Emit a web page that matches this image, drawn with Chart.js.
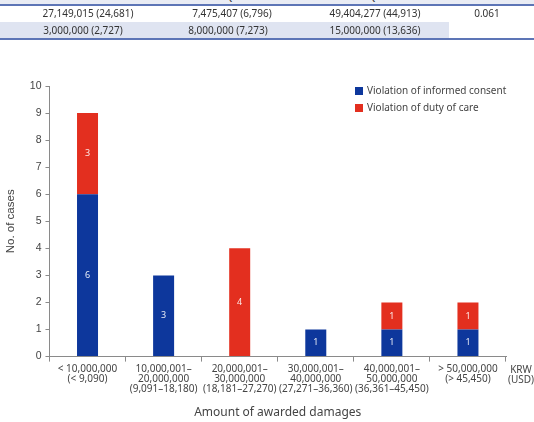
<!DOCTYPE html>
<html><head><meta charset="utf-8">
<script src="https://cdn.jsdelivr.net/npm/chart.js@4/dist/chart.umd.min.js"></script>
<style>
html,body{margin:0;padding:0;background:#fff;width:534px;height:422px;overflow:hidden;}
#wrap{position:relative;width:534px;height:422px;}
#c{position:absolute;left:0;top:0;}
.t{position:absolute;font-family:'Noto Sans',sans-serif;font-size:10px;color:#333;white-space:nowrap;transform:translate(-50%,-50%);}
.bar{position:absolute;left:0;width:534px;}
</style></head>
<body>
<div id="wrap">
<canvas id="c" width="534" height="422"></canvas>
<div id="tbl"></div>
</div>
<script>
// ----- table data (top, cropped) -----
const tableHeader = ["Median", "Q1", "Q3", "P value"];
const tableRow1 = ["27,149,015 (24,681)", "7,475,407 (6,796)", "49,404,277 (44,913)", "0.061"];
const tableRow2 = ["3,000,000 (2,727)", "8,000,000 (7,273)", "15,000,000 (13,636)"];

// ----- chart data -----
const categories = [
  ["< 10,000,000", "(< 9,090)"],
  ["10,000,001–", "20,000,000", "(9,091–18,180)"],
  ["20,000,001–", "30,000,000", "(18,181–27,270)"],
  ["30,000,001–", "40,000,000", "(27,271–36,360)"],
  ["40,000,001–", "50,000,000", "(36,361–45,450)"],
  ["> 50,000,000", "(> 45,450)"]
];
const informedConsent = [6, 3, 0, 1, 1, 1];
const dutyOfCare = [3, 0, 4, 0, 1, 1];
const seriesNames = ["Violation of informed consent", "Violation of duty of care"];
const yTicks = [0,1,2,3,4,5,6,7,8,9,10];
const unitLabel = ["KRW", "(USD)"];
const yTitle = "No. of cases";
const xTitle = "Amount of awarded damages";

// ----- build the table -----
(function(){
  const tbl = document.getElementById('tbl');
  function box(top, h, w, bg){ const d=document.createElement('div'); d.className='bar'; d.style.top=top+'px'; d.style.height=h+'px'; d.style.width=w+'px'; d.style.background=bg; tbl.appendChild(d); }
  function txt(s, x, y){ const d=document.createElement('div'); d.className='t'; d.textContent=s; d.style.left=x+'px'; d.style.top=y+'px'; tbl.appendChild(d); }
  box(0, 4, 534, '#e9ecf4');
  const hx = [88, 232, 375, 487];
  tableHeader.forEach((s,i)=>txt(s, hx[i], -4));
  box(4, 2, 534, '#5d75b6');
  const r1 = [88, 232, 375, 487];
  tableRow1.forEach((s,i)=>txt(s, r1[i], 13));
  box(22, 16, 449, '#dfe4f1');
  const r2 = [83, 228, 375];
  tableRow2.forEach((s,i)=>txt(s, r2[i], 30));
  box(38, 2, 534, '#5d75b6');
})();

const BLUE = '#0d379c';
const RED = '#e32f1f';

const segLabels = {
  id: 'segLabels',
  afterDatasetsDraw(chart){
    const ctx = chart.ctx;
    ctx.save();
    ctx.font = '9px "Noto Sans"';
    ctx.fillStyle = 'rgba(255,255,255,0.9)';
    ctx.textAlign = 'center';
    ctx.textBaseline = 'middle';
    chart.data.datasets.forEach((ds, di) => {
      const meta = chart.getDatasetMeta(di);
      meta.data.forEach((el, i) => {
        const v = ds.data[i];
        if (!v) return;
        const p = el.getProps(['x','y','base'], true);
        ctx.fillText(String(v), p.x, (p.y + p.base) / 2);
      });
    });
    ctx.restore();
  }
};

const customLegend = {
  id: 'customLegend',
  afterDraw(chart){
    const ctx = chart.ctx;
    const x0 = chart.chartArea.right - 151;
    ctx.save();
    ctx.font = '10px "Noto Sans"';
    ctx.textBaseline = 'middle';
    ctx.textAlign = 'left';
    chart.data.datasets.forEach((ds, i) => {
      const y = 91 + i * 17;
      ctx.fillStyle = ds.backgroundColor;
      ctx.fillRect(x0, y - 4, 8, 8);
      ctx.fillStyle = '#444';
      ctx.fillText(ds.label, x0 + 12, y);
    });
    ctx.restore();
  }
};

const unitText = {
  id: 'unitText',
  afterDraw(chart){
    const ctx = chart.ctx;
    const xs = chart.scales.x;
    ctx.save();
    ctx.font = '10px "Noto Sans"';
    ctx.fillStyle = '#444';
    ctx.textAlign = 'center';
    ctx.textBaseline = 'middle';
    unitLabel.forEach((s, i) => ctx.fillText(s, xs.right + 15, xs.top + 14 + i * 10));
    ctx.restore();
  }
};

new Chart(document.getElementById('c'), {
  type: 'bar',
  data: {
    labels: categories,
    datasets: [
      { label: seriesNames[0], data: informedConsent, backgroundColor: BLUE, barPercentage: 0.276, categoryPercentage: 1 },
      { label: seriesNames[1], data: dutyOfCare, backgroundColor: RED, barPercentage: 0.276, categoryPercentage: 1 }
    ]
  },
  options: {
    responsive: false,
    animation: false,
    layout: { padding: { left: 4, right: 28, top: 86, bottom: 2 } },
    plugins: { legend: { display: false }, tooltip: { enabled: false } },
    scales: {
      x: {
        stacked: true,
        grid: { display: true, drawOnChartArea: false, offset: true, tickLength: 5, color: '#8a8a8a' },
        border: { color: '#8a8a8a' },
        ticks: { font: { family: 'Noto Sans', size: 10, lineHeight: 1.0 }, color: '#444', padding: 3, maxRotation: 0, autoSkip: false },
        title: { display: true, text: xTitle, font: { family: 'Noto Sans', size: 12 }, color: '#444', padding: { top: 8, bottom: 0 } }
      },
      y: {
        stacked: true,
        min: 0, max: 10,
        afterBuildTicks(scale){ scale.ticks = yTicks.map(v => ({ value: v })); },
        grid: { display: true, drawOnChartArea: false, tickLength: 4, color: '#8a8a8a' },
        border: { color: '#8a8a8a' },
        ticks: { font: { family: 'Liberation Sans', size: 10.5 }, color: '#444', padding: 4 },
        title: { display: true, text: yTitle, font: { family: 'Liberation Sans', size: 11.5 }, color: '#444', padding: { top: 0, bottom: 8 } }
      }
    }
  },
  plugins: [segLabels, customLegend, unitText]
});
</script>
</body></html>
